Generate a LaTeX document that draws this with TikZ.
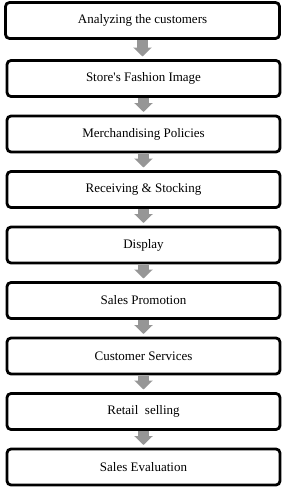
\documentclass[tikz,border=0pt]{standalone}
\usepackage{fontspec}
\setmainfont{Liberation Serif}
\usetikzlibrary{positioning,arrows.meta}
\definecolor{flowgray}{RGB}{150,150,150}

\begin{document}
\begin{tikzpicture}[%
    x=1pt, y=1pt,
    node distance=19.5pt,
    box/.style={draw, line width=2.8pt, rounded corners=4pt, outer sep=0pt,
        minimum width=273pt, minimum height=36pt,
        font=\fontsize{13}{15}\selectfont},
    flow/.style={draw=flowgray, line width=11pt,
        -{Triangle[width=18pt,length=9pt]},
        shorten <=1.5pt, shorten >=4pt}
]
\useasboundingbox (0,0) rectangle (287,-490);

% first step
\node[box, minimum width=274pt] (analyze) at (142.5,-20.5) {Analyzing the customers};

% the steps below it
\node[box, below=22pt of analyze, xshift=1pt] (fashion) {Store\textquotesingle s Fashion Image};
\node[box, below=of fashion] (policies) {Merchandising Policies};
\node[box, below=of policies] (stocking) {Receiving \& Stocking};
\node[box, below=of stocking] (display) {Display};
\node[box, below=of display] (promotion) {Sales Promotion};
\node[box, below=of promotion] (services) {Customer Services};
\node[box, below=of services] (selling) {Retail\ \ selling};
\node[box, below=of selling] (evaluation) {Sales Evaluation};

% grey arrows between the steps
\draw[flow] (analyze.south) -- (analyze.south |- fashion.north);
\draw[flow] (fashion) -- (policies);
\draw[flow] (policies) -- (stocking);
\draw[flow] (stocking) -- (display);
\draw[flow] (display) -- (promotion);
\draw[flow] (promotion) -- (services);
\draw[flow] (services) -- (selling);
\draw[flow] (selling) -- (evaluation);

\end{tikzpicture}
\end{document}
